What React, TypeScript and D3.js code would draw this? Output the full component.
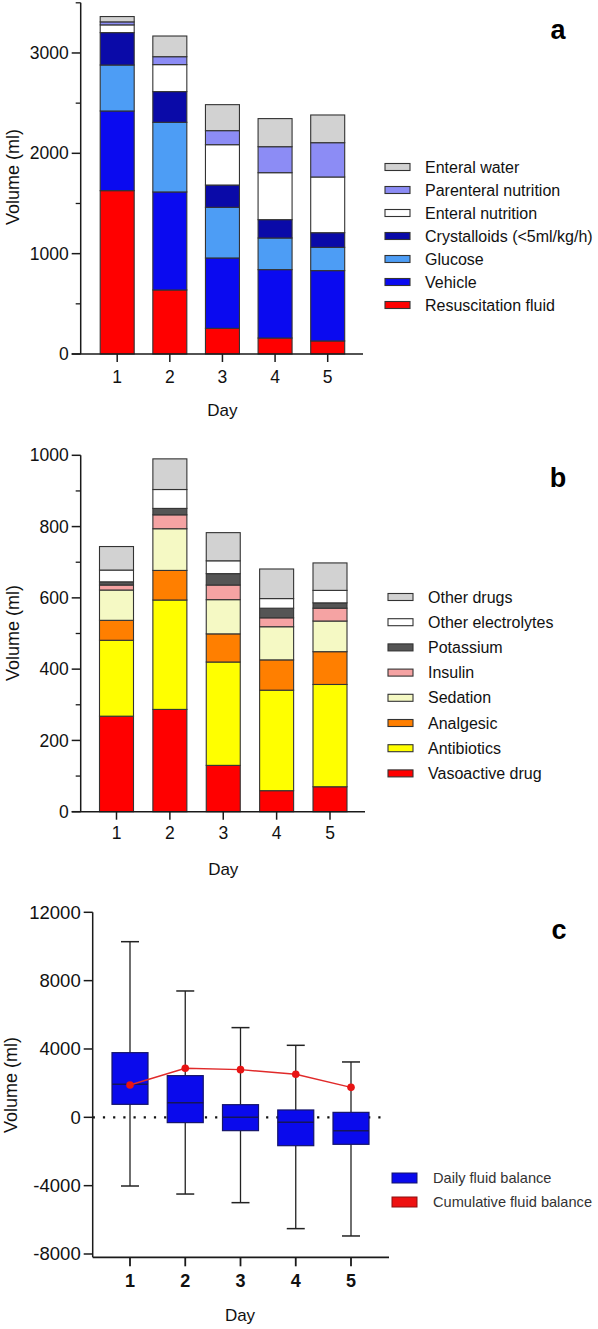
import React from "react";
import * as d3 from "d3";

// ---------- Data ----------
const days = ["1", "2", "3", "4", "5"];

// Panel a (bottom -> top)
const fluidSeries = [
  "Resuscitation fluid",
  "Vehicle",
  "Glucose",
  "Crystalloids (<5ml/kg/h)",
  "Enteral nutrition",
  "Parenteral nutrition",
  "Enteral water",
];
const resuscitationFluid = [1628, 638, 256, 159, 130];
const vehicle = [794, 977, 701, 682, 701];
const glucose = [458, 694, 505, 315, 232];
const crystalloids = [323, 306, 222, 183, 146];
const enteralNutrition = [77, 269, 402, 468, 555];
const parenteralNutrition = [30, 79, 140, 259, 342];
const enteralWater = [53, 206, 259, 280, 276];
const fluidColors = ["#ff0000", "#0a0af0", "#4d9df5", "#0a0aa8", "#ffffff", "#8c8cf5", "#d2d2d2"];
const fluidTicks = [0, 1000, 2000, 3000];
const fluidMinorTicks = [500, 1500, 2500, 3500];

// Panel b (bottom -> top)
const drugSeries = [
  "Vasoactive drug",
  "Antibiotics",
  "Analgesic",
  "Sedation",
  "Insulin",
  "Potassium",
  "Other electrolytes",
  "Other drugs",
];
const vasoactiveDrug = [268, 287, 130, 59, 70];
const antibiotics = [213, 307, 290, 282, 287];
const analgesic = [56, 83, 79, 85, 92];
const sedation = [85, 117, 96, 93, 86];
const insulin = [14, 39, 41, 25, 36];
const potassium = [9, 18, 32, 27, 15];
const otherElectrolytes = [33, 53, 36, 27, 35];
const otherDrugs = [66, 86, 79, 83, 77];
const drugColors = ["#ff0000", "#ffff00", "#ff7f00", "#f5f9c4", "#f5a3a3", "#555555", "#ffffff", "#d2d2d2"];
const drugTicks = [0, 200, 400, 600, 800, 1000];
const drugMinorTicks = [100, 300, 500, 700, 900];

// Panel c
const whiskerMax = [10280, 7395, 5250, 4215, 3240];
const q3 = [3785, 2440, 740, 430, 290];
const median = [1930, 860, 0, -290, -780];
const q1 = [760, -310, -780, -1660, -1580];
const whiskerMin = [-4020, -4490, -4995, -6515, -6945];
const cumulative = [1890, 2870, 2790, 2520, 1755];
const balanceTicks = [-8000, -4000, 0, 4000, 8000, 12000];
const balanceLegend = ["Daily fluid balance", "Cumulative fluid balance"];

const FONT = "'Liberation Sans', Arial, Helvetica, sans-serif";
const AXIS = "#1a1a1a";

type StackPanelProps = {
  series: string[];
  values: number[][];
  colors: string[];
  yDomain: [number, number];
  yRange: [number, number];
  xRange: [number, number];
  axisX: number;
  xAxisEnd: number;
  ticks: number[];
  minorTicks: number[];
  tickLabelY: number;
  dayLabelY: number;
  volumeLabelY: number;
  legendX: number;
  legendTextX: number;
  legendTopY: number;
  legendStep: number;
  letter: string;
  letterY: number;
};

function StackPanel(p: StackPanelProps) {
  const x = d3.scalePoint<string>().domain(days).range(p.xRange);
  const y = d3.scaleLinear().domain(p.yDomain).range(p.yRange);
  const rows = days.map((d, i) => {
    const r: any = { day: d };
    p.series.forEach((s, k) => (r[s] = p.values[k][i]));
    return r;
  });
  const stacked = d3.stack<any>().keys(p.series)(rows);
  const barW = 34;
  const y0 = y(0);
  return (
    <g>
      {stacked.map((layer, k) =>
        layer.map((seg, i) => (
          <rect
            key={`${k}-${i}`}
            x={(x(days[i]) as number) - barW / 2}
            y={y(seg[1])}
            width={barW}
            height={y(seg[0]) - y(seg[1])}
            fill={p.colors[k]}
            stroke="#333"
            strokeWidth={1.1}
          />
        ))
      )}
      {/* y axis */}
      <line x1={p.axisX} x2={p.axisX} y1={y0} y2={y(p.yDomain[1])} stroke={AXIS} strokeWidth={1.5} />
      {p.ticks.map((t) => (
        <g key={t}>
          <line x1={p.axisX - 9} x2={p.axisX} y1={y(t)} y2={y(t)} stroke={AXIS} strokeWidth={1.5} />
          <text x={p.axisX - 12} y={y(t)} dy="0.35em" textAnchor="end" fontSize={17.5} fontFamily={FONT} fill="#111">
            {t}
          </text>
        </g>
      ))}
      {p.minorTicks.map((t) => (
        <line key={t} x1={p.axisX - 5} x2={p.axisX} y1={y(t)} y2={y(t)} stroke={AXIS} strokeWidth={1.3} />
      ))}
      {/* x axis */}
      <line x1={p.axisX - 9} x2={p.xAxisEnd} y1={y0} y2={y0} stroke={AXIS} strokeWidth={1.5} />
      {days.map((d) => (
        <g key={d}>
          <line x1={x(d)} x2={x(d)} y1={y0} y2={y0 + 8} stroke={AXIS} strokeWidth={1.5} />
          <text x={x(d)} y={p.tickLabelY} textAnchor="middle" fontSize={17.5} fontFamily={FONT} fill="#111">
            {d}
          </text>
        </g>
      ))}
      <text x={(p.xRange[0] + p.xRange[1]) / 2} y={p.dayLabelY} textAnchor="middle" fontSize={17} fontFamily={FONT} fill="#111">
        Day
      </text>
      <text
        transform={`translate(13,${p.volumeLabelY}) rotate(-90)`}
        textAnchor="middle"
        dy="0.35em"
        fontSize={18}
        fontFamily={FONT}
        fill="#111"
      >
        Volume (ml)
      </text>
      {/* legend */}
      {p.series
        .map((s, k) => ({ s, k }))
        .reverse()
        .map(({ s, k }, j) => {
          const cy = p.legendTopY + j * p.legendStep;
          return (
            <g key={s}>
              <rect x={p.legendX} y={cy - 3.5} width={25} height={7} fill={p.colors[k]} stroke="#333" strokeWidth={1.1} />
              <text x={p.legendTextX} y={cy} dy="0.35em" fontSize={16} fontFamily={FONT} fill="#111">
                {s}
              </text>
            </g>
          );
        })}
      <text x={558} y={p.letterY} textAnchor="middle" fontSize={27} fontWeight="bold" fontFamily={FONT} fill="#000">
        {p.letter}
      </text>
    </g>
  );
}

function BoxPanel() {
  const x = d3.scalePoint<string>().domain(days).range([130, 351]);
  const y = d3.scaleLinear().domain([-8000, 12000]).range([1254, 912.3]);
  const axisX = 92.7;
  const xAxisY = 1257.3;
  const boxW = 36;
  const capW = 18;
  const line = d3
    .line<number>()
    .x((_, i) => x(days[i]) as number)
    .y((v) => y(v));
  return (
    <g>
      {/* zero dotted line */}
      <line x1={axisX} x2={386} y1={y(0)} y2={y(0)} stroke="#111" strokeWidth={2.2} strokeDasharray="2.2 8" />
      {days.map((d, i) => {
        const cx = x(d) as number;
        return (
          <g key={d}>
            <line x1={cx} x2={cx} y1={y(whiskerMax[i])} y2={y(q3[i])} stroke="#222" strokeWidth={1.3} />
            <line x1={cx} x2={cx} y1={y(q1[i])} y2={y(whiskerMin[i])} stroke="#222" strokeWidth={1.3} />
            <line x1={cx - capW / 2} x2={cx + capW / 2} y1={y(whiskerMax[i])} y2={y(whiskerMax[i])} stroke="#222" strokeWidth={1.5} />
            <line x1={cx - capW / 2} x2={cx + capW / 2} y1={y(whiskerMin[i])} y2={y(whiskerMin[i])} stroke="#222" strokeWidth={1.5} />
            <rect
              x={cx - boxW / 2}
              y={y(q3[i])}
              width={boxW}
              height={y(q1[i]) - y(q3[i])}
              fill="#0a0aec"
              stroke="#15156a"
              strokeWidth={1.2}
            />
            <line x1={cx - boxW / 2} x2={cx + boxW / 2} y1={y(median[i])} y2={y(median[i])} stroke="#15155a" strokeWidth={1.5} />
          </g>
        );
      })}
      <path d={line(cumulative) as string} fill="none" stroke="#e02a2a" strokeWidth={1.4} />
      {cumulative.map((v, i) => (
        <circle key={i} cx={x(days[i])} cy={y(v)} r={3.8} fill="#e81414" />
      ))}
      {/* axes */}
      <line x1={axisX} x2={axisX} y1={y(12000)} y2={xAxisY} stroke={AXIS} strokeWidth={1.5} />
      {balanceTicks.map((t) => (
        <g key={t}>
          <line x1={axisX - 9} x2={axisX} y1={y(t)} y2={y(t)} stroke={AXIS} strokeWidth={1.5} />
          <text x={axisX - 12} y={y(t)} dy="0.35em" textAnchor="end" fontSize={18.5} fontFamily={FONT} fill="#111">
            {t}
          </text>
        </g>
      ))}
      <line x1={axisX} x2={389} y1={xAxisY} y2={xAxisY} stroke={AXIS} strokeWidth={1.8} />
      {days.map((d) => (
        <g key={d}>
          <line x1={x(d)} x2={x(d)} y1={xAxisY} y2={xAxisY + 9} stroke={AXIS} strokeWidth={1.8} />
          <text x={x(d)} y={1287} textAnchor="middle" fontSize={18} fontWeight="bold" fontFamily={FONT} fill="#111">
            {d}
          </text>
        </g>
      ))}
      <text x={240} y={1321} textAnchor="middle" fontSize={17} fontFamily={FONT} fill="#111">
        Day
      </text>
      <text transform={`translate(11,1085) rotate(-90)`} textAnchor="middle" dy="0.35em" fontSize={18} fontFamily={FONT} fill="#111">
        Volume (ml)
      </text>
      {/* legend */}
      {balanceLegend.map((s, j) => {
        const cy = 1178 + j * 24;
        return (
          <g key={s}>
            <rect
              x={392}
              y={cy - 5}
              width={25}
              height={10}
              fill={j === 0 ? "#0a0aec" : "#ee1111"}
              stroke={j === 0 ? "#15156a" : "#8a1010"}
              strokeWidth={1}
            />
            <text x={433} y={cy} dy="0.35em" fontSize={14.6} fontFamily={FONT} fill="#333">
              {s}
            </text>
          </g>
        );
      })}
      <text x={559} y={939} textAnchor="middle" fontSize={27} fontWeight="bold" fontFamily={FONT} fill="#000">
        c
      </text>
    </g>
  );
}

export default function App() {
  return (
    <svg
      width={598}
      height={1329}
      viewBox="0 0 598 1329"
      style={{ position: "absolute", left: 0, top: 0, background: "#fff" }}
    >
      <rect width={598} height={1329} fill="#fff" />
      <StackPanel
        series={fluidSeries}
        values={[resuscitationFluid, vehicle, glucose, crystalloids, enteralNutrition, parenteralNutrition, enteralWater]}
        colors={fluidColors}
        yDomain={[0, 3500]}
        yRange={[354, 2.8]}
        xRange={[117.2, 327.7]}
        axisX={80.7}
        xAxisEnd={363}
        ticks={fluidTicks}
        minorTicks={fluidMinorTicks}
        tickLabelY={383}
        dayLabelY={416}
        volumeLabelY={177}
        legendX={385}
        legendTextX={425}
        legendTopY={167}
        legendStep={23}
        letter="a"
        letterY={39}
      />
      <StackPanel
        series={drugSeries}
        values={[vasoactiveDrug, antibiotics, analgesic, sedation, insulin, potassium, otherElectrolytes, otherDrugs]}
        colors={drugColors}
        yDomain={[0, 1000]}
        yRange={[811.7, 455.3]}
        xRange={[116.5, 330]}
        axisX={80.7}
        xAxisEnd={365}
        ticks={drugTicks}
        minorTicks={drugMinorTicks}
        tickLabelY={839}
        dayLabelY={875}
        volumeLabelY={633}
        legendX={388}
        legendTextX={428}
        legendTopY={597}
        legendStep={25.2}
        letter="b"
        letterY={487}
      />
      <BoxPanel />
    </svg>
  );
}
